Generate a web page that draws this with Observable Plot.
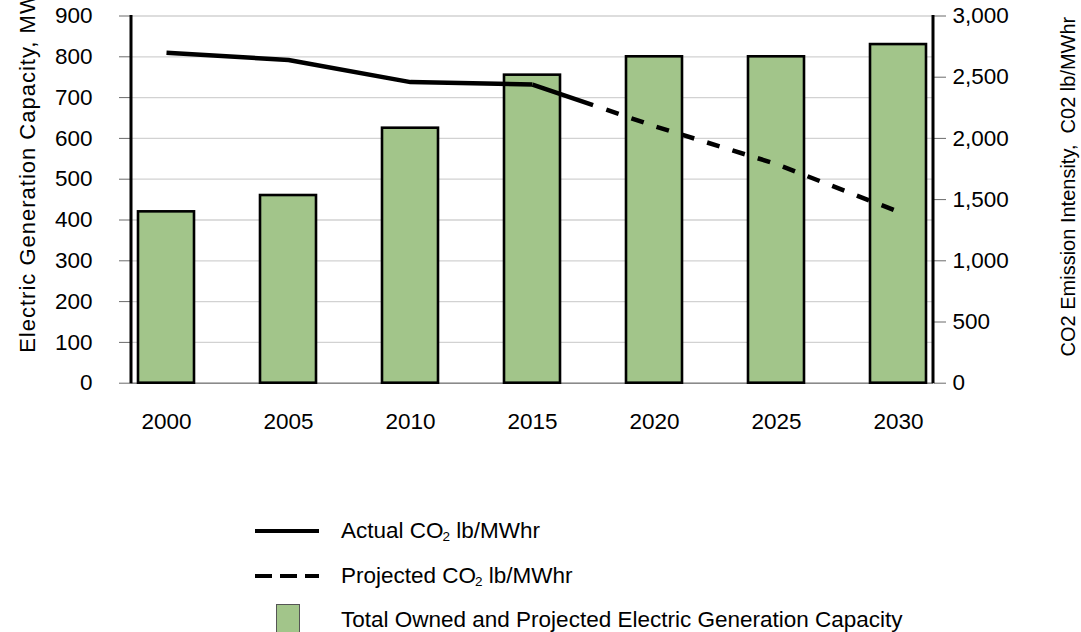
<!DOCTYPE html>
<html>
<head>
<meta charset="utf-8">
<script src="https://cdn.jsdelivr.net/npm/d3@7"></script>
<script src="https://cdn.jsdelivr.net/npm/@observablehq/plot@0.6"></script>
<style>
  html, body { margin: 0; padding: 0; background: #fff; }
  body { position: relative; width: 1081px; height: 632px; overflow: hidden;
         font-family: "Liberation Sans", Arial, sans-serif; color: #000; }
  #chart { position: absolute; left: 0; top: 0; }
  .legend-row { position: absolute; left: 0; height: 30px; display: flex; align-items: center; font-size: 22.5px; }
  .legend-row .swatch { position: absolute; }
  .legend-row .label { position: absolute; left: 341px; white-space: nowrap; }
  .legend-row sub { font-size: 0.6em; vertical-align: -0.25em; margin-left: -1px; }
</style>
</head>
<body>
<div id="chart"></div>
<div id="legend"></div>
<script>
// Capacity (left axis, MW) by year
const years = [2000, 2005, 2010, 2015, 2020, 2025, 2030];
const capacityMW = [420, 460, 625, 755, 800, 800, 830];

// CO2 emission intensity (right axis, lb/MWhr)
const actualYears = [2000, 2005, 2010, 2015];
const actualCO2 = [2700, 2640, 2460, 2440];
const projectedYears = [2015, 2020, 2025, 2030];
const projectedCO2 = [2440, 2100, 1790, 1400];

// Axis ticks
const leftTicks = [0, 100, 200, 300, 400, 500, 600, 700, 800, 900];
const rightTicks = [0, 500, 1000, 1500, 2000, 2500, 3000];
const leftMax = 900;
const rightMax = 3000;

// Text
const leftTitle = "Electric Generation Capacity, MW";
const rightTitle = "CO2 Emission Intensity,  C02 lb/MWhr";
const legendLabels = [
  ["Actual CO", "2", " lb/MWhr"],
  ["Projected CO", "2", " lb/MWhr"],
  ["Total Owned and Projected Electric Generation Capacity", "", ""]
];

const GREEN = "#a2c58a";
const FONT = "'Liberation Sans', Arial, sans-serif";

// right-axis values are drawn on the left (MW) scale through this ratio
const k = leftMax / rightMax;

const capacity = years.map((year, i) => ({year, mw: capacityMW[i]}));
const actual = actualYears.map((year, i) => ({year, co2: actualCO2[i]}));
const projected = projectedYears.map((year, i) => ({year, co2: projectedCO2[i]}));

// long first dash where the projection leaves the actual line, then even dashes
const dashPattern = [64, 14, ...d3.range(16).flatMap(() => [13, 13.5])].join(" ");

const chart = Plot.plot({
  width: 1081,
  height: 450,
  marginTop: 15.5,
  marginBottom: 67.3,
  marginLeft: 131,
  marginRight: 148,
  style: {fontFamily: FONT, fontSize: "22.5px", color: "black", background: "white", overflow: "visible"},
  x: {type: "band", domain: years, paddingInner: 0.537, paddingOuter: 0.03},
  y: {domain: [0, leftMax]},
  marks: [
    Plot.gridY(leftTicks, {stroke: "#d2d2d2", strokeOpacity: 1, strokeWidth: 1.3}),
    Plot.ruleY([0], {stroke: "#8a8a8a", strokeWidth: 1.6}),
    Plot.barY(capacity, {x: "year", y: "mw", fill: GREEN, stroke: "black", strokeWidth: 2.6}),
    Plot.lineY(actual, {x: "year", y: d => d.co2 * k, stroke: "black", strokeWidth: 4.5,
      strokeLinecap: "butt", strokeLinejoin: "miter"}),
    Plot.lineY(projected, {x: "year", y: d => d.co2 * k, stroke: "black", strokeWidth: 4.5,
      strokeLinecap: "butt", strokeLinejoin: "miter", strokeDasharray: dashPattern}),
    Plot.axisY(leftTicks, {anchor: "left", tickSize: 12, tickPadding: 27, label: null,
      stroke: "#6b6b6b", tickFormat: d => String(d)}),
    Plot.axisY(rightTicks.map(v => v * k), {anchor: "right", tickSize: 12, tickPadding: 7, label: null,
      stroke: "#6b6b6b", tickFormat: v => d3.format(",")(Math.round(v / k))}),
    Plot.axisX({tickSize: 0, tickPadding: 30, label: null, tickFormat: d => String(d)}),
    Plot.text([leftTitle], {text: d => d, frameAnchor: "left", textAnchor: "middle",
      rotate: -90, dx: -104, dy: -27, fontSize: 22}),
    Plot.text([rightTitle], {text: d => d, frameAnchor: "right", textAnchor: "middle",
      rotate: -90, dx: 135, dy: -13, fontSize: 20})
  ]
});

// heavy vertical axis lines on both sides of the plot area
const xr = chart.scale("x").range;
const yr = chart.scale("y").range;
const svg = d3.select(chart);
for (const x of [xr[0], xr[1]]) {
  svg.append("line")
    .attr("x1", x).attr("x2", x)
    .attr("y1", yr[0] + 0.5).attr("y2", yr[1] - 0.5)
    .attr("stroke", "black").attr("stroke-width", 3);
}
svg.selectAll("text").filter(function() { return this.textContent === leftTitle; })
  .style("letter-spacing", "1px");

document.getElementById("chart").appendChild(chart);

// legend below the chart
const legend = d3.select("#legend");
const rowCenters = [531, 576, 620];
legendLabels.forEach((parts, i) => {
  const row = legend.append("div").attr("class", "legend-row")
    .style("top", (rowCenters[i] - 15) + "px").style("width", "1081px");
  if (i < 2) {
    const s = row.append("svg").attr("class", "swatch")
      .attr("width", 66).attr("height", 30).style("left", "254px").style("top", "0px");
    s.append("line").attr("x1", 1).attr("x2", 65).attr("y1", 15).attr("y2", 15)
      .attr("stroke", "black").attr("stroke-width", 4.2)
      .attr("stroke-dasharray", i === 1 ? "17 8" : null);
  } else {
    row.append("div").attr("class", "swatch")
      .style("left", "276px").style("top", "-1px")
      .style("width", "22px").style("height", "28px")
      .style("background", GREEN).style("border", "1.5px solid #555");
  }
  const lab = row.append("div").attr("class", "label");
  lab.append("span").text(parts[0]);
  if (parts[1]) lab.append("sub").text(parts[1]);
  if (parts[2]) lab.append("span").text(parts[2]);
});
</script>
</body>
</html>
